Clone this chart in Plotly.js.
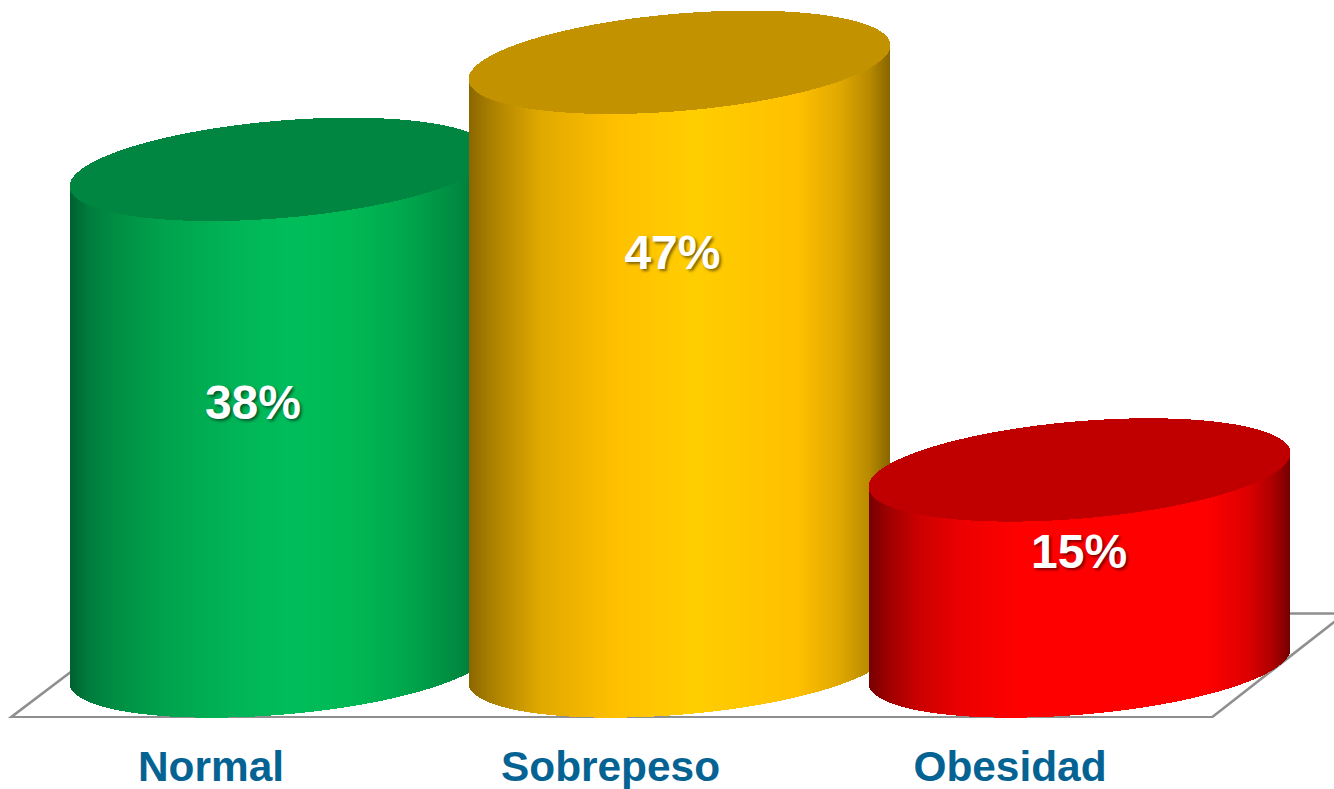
<!DOCTYPE html>
<html>
<head>
<meta charset="utf-8">
<script src="https://cdn.plot.ly/plotly-3.0.1.min.js"></script>
<style>html,body{margin:0;padding:0;background:#fff;overflow:hidden}#chart{width:1334px;height:789px}</style>
</head>
<body>
<div id="chart"></div>
<script>
// Data
const categories = ["Normal", "Sobrepeso", "Obesidad"];
const values = [38.5, 46.8, 15.2];
const labels = ["38%", "47%", "15%"];

// Label anchors: category offset and fraction of bar height
const labelDx = [0.105, 0.155, 0.173];
const labelFrac = [0.521, 0.6775, 0.56];

// Styles
const topColors = ["#008640", "#c29200", "#c00000"];
const ramps = [
  [[0,"#005f30"],[0.04,"#007a3b"],[0.1,"#008c42"],[0.22,"#00a24d"],[0.4,"#00b557"],[0.53,"#00bd5a"],[0.68,"#00b753"],[0.8,"#00a64c"],[0.92,"#008a41"],[1,"#006b35"]],
  [[0,"#8a6600"],[0.05,"#a87e00"],[0.17,"#e0a900"],[0.35,"#ffc000"],[0.53,"#ffce00"],[0.78,"#ffc000"],[0.88,"#e0a800"],[0.95,"#b88a00"],[1,"#866400"]],
  [[0,"#750000"],[0.04,"#9a0000"],[0.12,"#cc0000"],[0.22,"#ec0000"],[0.36,"#ff0000"],[0.8,"#ff0000"],[0.9,"#dd0000"],[0.96,"#aa0000"],[1,"#730000"]]
];

// Plot scale: pixels per unit
const pxPerCat = 399.5, pxPerVal = 12.9;
const slice = 1 / pxPerCat;
const depthDx = 69.4 / pxPerCat;    // cylinders stand behind the tick positions
const halfW = 211 / pxPerCat;
const shear = 17 / pxPerVal, semi = 48.8 / pxPerVal;

const hex = c => [1,3,5].map(i => parseInt(c.substr(i,2),16));
function rampColor(ramp, f) {
  for (let i = 1; i < ramp.length; i++) {
    if (f <= ramp[i][0]) {
      const t = (f - ramp[i-1][0]) / (ramp[i][0] - ramp[i-1][0]);
      const a = hex(ramp[i-1][1]), b = hex(ramp[i][1]);
      return "rgb(" + a.map((v,k) => Math.round(v + (b[k]-v)*t)).join(",") + ")";
    }
  }
  return ramp[ramp.length-1][1];
}

const traces = [];
categories.forEach((cat, idx) => {
  const cx = idx + depthDx, v = values[idx];
  const xs = [], bodyBase = [], bodyH = [], topBase = [], topH = [], colors = [];
  const n = Math.round(2 * halfW / slice);
  for (let i = 1; i < n; i++) {
    const c = (i - n/2) / (n/2);
    const s = Math.sqrt(1 - c*c);
    const lower = shear * c - semi * s;
    const upper = shear * c + semi * s;
    xs.push(cx + c * halfW);
    bodyBase.push(lower);
    bodyH.push(v);
    topBase.push(v + lower);
    topH.push(upper - lower);
    colors.push(rampColor(ramps[idx], (c + 1) / 2));
  }
  traces.push({type:"bar", x:xs, y:bodyH, base:bodyBase, width:slice*1.02,
    marker:{color:colors, line:{width:0}}, hoverinfo:"skip", showlegend:false, name:cat});
  traces.push({type:"bar", x:xs, y:topH, base:topBase, width:slice*1.02,
    marker:{color:topColors[idx], line:{width:0}}, hoverinfo:"skip", showlegend:false, name:cat+" top"});
});

traces.push({
  type:"scatter", mode:"text",
  x: categories.map((c,i) => i + labelDx[i]),
  y: values.map((v,i) => v * labelFrac[i]),
  text: labels,
  textposition:"middle center",
  textfont:{family:"Liberation Sans, Arial, sans-serif", size:48, color:"#ffffff", weight:700,
            shadow:"2px 2px 3px rgba(0,0,0,0.5)"},
  hoverinfo:"skip", showlegend:false
});

// Floor parallelogram, behind the cylinders
const X = p => (p - 211) / pxPerCat;
const Y = p => (666 - p) / pxPerVal;
const floor = [[11,717.2],[1212,717.2],[1345,613.5],[148,613.5]];
const floorPath = floor.map((p,i) => (i?"L":"M") + X(p[0]) + "," + Y(p[1])).join(" ") + " Z";

const layout = {
  width:1334, height:789,
  margin:{l:0, r:0, t:0, b:71},
  paper_bgcolor:"#ffffff", plot_bgcolor:"#ffffff",
  barmode:"overlay", bargap:0,
  showlegend:false,
  xaxis:{type:"linear", range:[X(0), X(1334)], tickmode:"array", tickvals:[0,1,2], ticktext:categories,
    showgrid:false, zeroline:false, showline:false, ticks:"", fixedrange:true, ticklabelstandoff:20,
    tickfont:{family:"Liberation Sans, Arial, sans-serif", size:42.4, color:"#056393", weight:700}},
  yaxis:{range:[Y(718), Y(0)], visible:false, fixedrange:true},
  shapes:[{type:"path", path:floorPath, layer:"below", xref:"x", yref:"y",
    line:{color:"#8f8f8f", width:2.6}, fillcolor:"rgba(0,0,0,0)"}]
};
Plotly.newPlot("chart", traces, layout, {displayModeBar:false, staticPlot:true});
</script>
</body>
</html>
